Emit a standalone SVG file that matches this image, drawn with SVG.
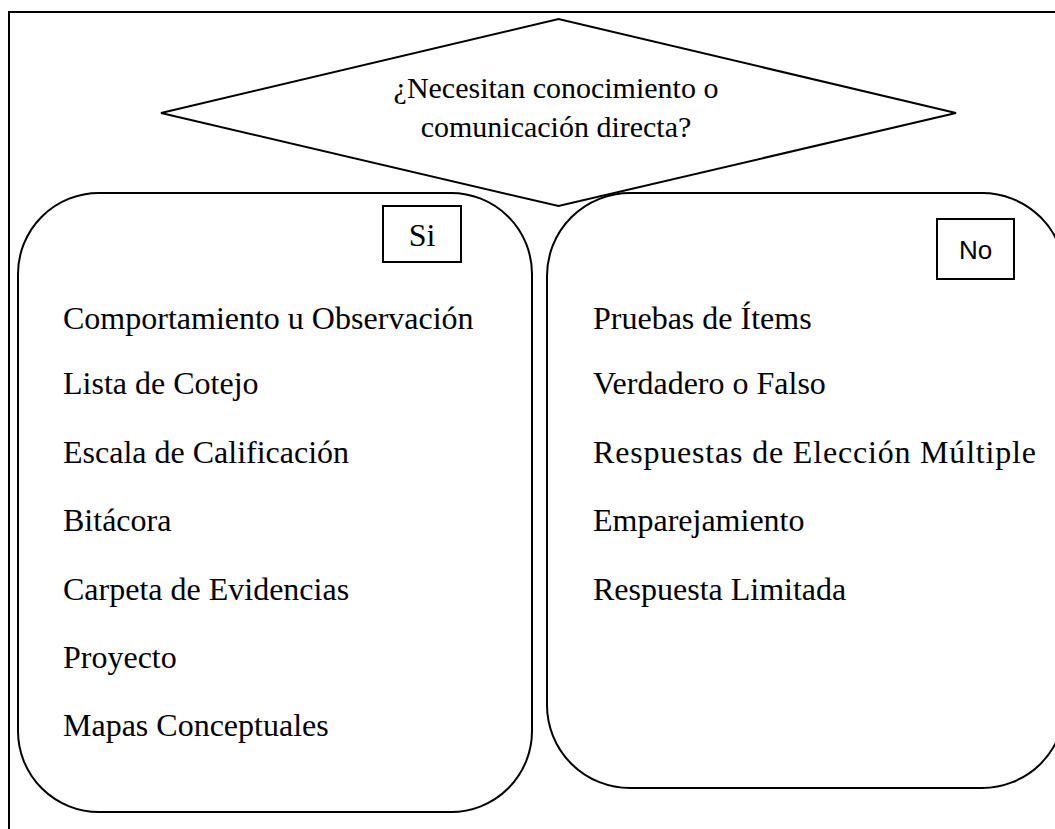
<svg xmlns="http://www.w3.org/2000/svg" width="1055" height="829" viewBox="0 0 1055 829">
<style>
.ln{fill:none;stroke:#000;stroke-width:2}
.box{fill:#fff;stroke:#000;stroke-width:2}
.t{font-family:"Liberation Serif","Times New Roman",serif;font-size:32px;fill:#000}
.q{font-family:"Liberation Serif","Times New Roman",serif;font-size:30px;fill:#000;text-anchor:middle}
.a{font-family:"Liberation Sans",Arial,sans-serif;font-size:26px;fill:#000;text-anchor:middle}
</style>
<rect width="1055" height="829" fill="#fff"/>
<rect id="frame" class="ln" x="9" y="12" width="1200" height="1000" stroke-width="2.5"/>
<g id="question">
<polygon class="box" points="161,113 558.5,19 956,113 558.5,206"/>
<text class="q" x="556" y="98">¿Necesitan conocimiento o</text>
<text class="q" x="556" y="137">comunicación directa?</text>
</g>
<g id="si-group">
<rect class="box" x="18" y="193" width="514" height="619" rx="81" ry="81"/>
<rect id="si-label" class="box" x="383" y="206" width="78" height="56"/>
<text class="q" x="422" y="246" style="font-size:32px">Si</text>
<text class="t" x="63" y="329">Comportamiento u Observación</text>
<text class="t" x="63" y="394">Lista de Cotejo</text>
<text class="t" x="63" y="463">Escala de Calificación</text>
<text class="t" x="63" y="531">Bitácora</text>
<text class="t" x="63" y="600">Carpeta de Evidencias</text>
<text class="t" x="63" y="668">Proyecto</text>
<text class="t" x="63" y="736">Mapas Conceptuales</text>
</g>
<g id="no-group">
<rect class="box" x="547" y="193" width="518" height="595" rx="83" ry="83"/>
<rect id="no-label" class="box" x="937" y="219" width="77" height="60"/>
<text class="a" x="975.5" y="259">No</text>
<text class="t" x="593" y="329">Pruebas de Ítems</text>
<text class="t" x="593" y="394">Verdadero o Falso</text>
<text class="t" x="593" y="463" textLength="443" lengthAdjust="spacing">Respuestas de Elección Múltiple</text>
<text class="t" x="593" y="531">Emparejamiento</text>
<text class="t" x="593" y="600">Respuesta Limitada</text>
</g>
<g id="connectors"></g>
</svg>
